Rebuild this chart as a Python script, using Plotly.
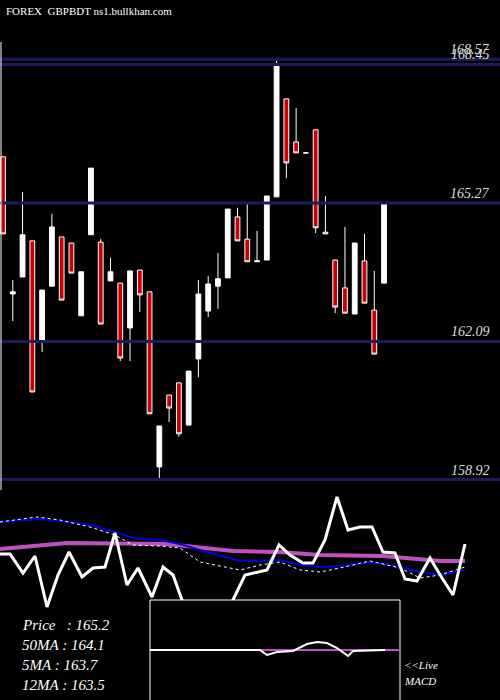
import plotly.graph_objs as go

# daily candles
opens = [166.33, 163.18, 163.57, 164.40, 162.09, 163.36, 164.49, 164.35, 162.68, 164.54,
         164.37, 163.48, 163.43, 162.40, 163.73, 163.23, 159.21, 160.86, 161.14, 160.17,
         161.69, 162.79, 163.36, 163.55, 164.95, 164.44, 163.92, 163.96, 165.41, 167.66,
         166.67, 166.42, 166.95, 164.60, 163.96, 163.32, 162.72, 163.94, 162.81, 163.43]
highs = [166.33, 163.50, 165.52, 164.40, 163.27, 165.02, 164.49, 164.35, 163.69, 166.07,
         164.44, 164.01, 163.43, 163.71, 163.73, 163.23, 160.15, 160.86, 161.14, 161.41,
         163.50, 163.59, 164.12, 165.13, 165.16, 165.25, 164.63, 165.43, 168.57, 167.66,
         167.45, 166.42, 166.95, 165.43, 163.96, 164.72, 164.35, 164.56, 163.71, 165.25]
lows = [164.56, 162.56, 163.57, 160.93, 161.85, 163.36, 163.04, 163.66, 162.68, 164.54,
        162.49, 163.48, 161.64, 161.64, 162.77, 160.43, 158.89, 160.24, 159.90, 160.17,
        161.27, 162.65, 162.84, 163.55, 164.40, 163.92, 163.92, 163.96, 165.41, 165.84,
        166.42, 166.42, 164.58, 164.56, 162.74, 162.74, 162.72, 162.97, 161.80, 163.43]
closes = [164.56, 163.23, 164.54, 160.93, 163.27, 164.72, 163.04, 163.66, 163.69, 166.07,
          162.49, 163.69, 161.71, 163.71, 163.16, 160.43, 160.15, 160.56, 159.97, 161.41,
          163.18, 163.41, 163.53, 165.13, 164.40, 163.92, 163.94, 165.43, 168.44, 166.19,
          166.42, 166.42, 164.70, 164.56, 162.88, 162.74, 164.35, 162.97, 161.80, 165.25]
levels = [168.57, 168.45, 165.27, 162.09, 158.92]
level_labels = ["168.57", "168.45", "165.27", "162.09", "158.92"]

# lower indicator panel (panel units, x across the panel)
blue_x = [0, 40, 60, 90, 115, 133, 160, 180, 200, 240, 280, 300, 320, 340, 370, 400, 420, 440, 465]
blue_y = [522, 519, 521, 525, 532, 538, 540, 544, 550, 561, 560, 565, 567, 566, 562, 567, 572, 575, 570]
dot_x = [0, 37, 60, 90, 115, 133, 160, 180, 200, 240, 260, 280, 300, 320, 340, 370, 400, 420, 440, 465]
dot_y = [522, 517, 520, 527, 535, 545, 546, 548, 562, 570, 565, 562, 570, 572, 568, 561, 568, 578, 575, 567]
mag_x = [0, 67, 167, 233, 280, 320, 383, 440, 465]
mag_y = [549, 543, 544, 551, 552, 555, 556, 561, 561]
wht_x = [0, 10, 23, 35, 47, 58, 69, 82, 93, 105, 115, 127, 138, 152, 163, 173, 182, 200, 217, 233,
         245, 267, 279, 290, 303, 313, 325, 337, 348, 360, 372, 383, 395, 405, 417, 430, 442, 453, 465]
wht_y = [554, 554, 573, 556, 607, 575, 552, 577, 568, 567, 533, 585, 568, 597, 567, 575, 600, 620, 620, 600,
         575, 570, 545, 555, 563, 563, 540, 497, 530, 527, 527, 552, 553, 579, 581, 558, 578, 595, 544]
macd_x = [150, 260, 267, 277, 293, 307, 317, 327, 337, 348, 353, 385]
macd_y = [650, 650, 655, 652, 651, 644, 642, 643, 648, 656, 651, 650]
sig_x = [150, 400]
sig_y = [650, 650]

fig = go.Figure()

for lv in levels:
    fig.add_trace(go.Scatter(x=[-1, 60], y=[lv, lv], mode='lines',
                             line=dict(color='#1c1c5c', width=3), hoverinfo='skip', showlegend=False))

fig.add_trace(go.Candlestick(
    x=list(range(len(opens))), open=opens, high=highs, low=lows, close=closes,
    increasing=dict(fillcolor='white', line=dict(color='white', width=1)),
    decreasing=dict(fillcolor='#cc0000', line=dict(color='white', width=1)),
    whiskerwidth=0, showlegend=False))

def lower(x, y, color, width, dash=None):
    fig.add_trace(go.Scatter(x=x, y=y, mode='lines', xaxis='x2', yaxis='y2',
                             line=dict(color=color, width=width, dash=dash), showlegend=False))

lower(mag_x, mag_y, '#c050c0', 4)
lower(blue_x, blue_y, '#0000dd', 2)
lower(dot_x, dot_y, 'white', 1, 'dot')
lower(wht_x, wht_y, 'white', 3)

# MACD box
fig.add_trace(go.Scatter(x=[150, 400, 400, 150, 150], y=[600, 600, 705, 705, 600], xaxis='x2', yaxis='y2',
                         mode='lines', fill='toself', fillcolor='black',
                         line=dict(color='white', width=1), showlegend=False))
lower(sig_x, sig_y, '#c050c0', 2)
lower(macd_x, macd_y, 'white', 2)

serif = "Liberation Serif, DejaVu Serif, serif"
ann = []
for lv, lab in zip(levels, level_labels):
    ann.append(dict(x=1, xref='paper', xanchor='right', y=lv, yref='y', yanchor='bottom', xshift=-8,
                    text='<i>%s</i>' % lab, showarrow=False, font=dict(family=serif, size=14, color='#dddddd')))
ann.append(dict(x=0.008, y=1, xref='paper', yref='paper', xanchor='left', yanchor='top', yshift=-3,
                text='FOREX  GBPBDT ns1.bullkhan.com', showarrow=False,
                font=dict(family=serif, size=11, color='white')))
for i, t in enumerate(['Price   : 165.2', '50MA : 164.1', '5MA : 163.7', '12MA : 163.5']):
    ann.append(dict(x=20, y=625 + 20 * i, xref='x2', yref='y2', xanchor='left', yanchor='middle',
                    text='<i>%s</i>' % t, showarrow=False, font=dict(family=serif, size=15, color='white')))
ann.append(dict(x=402, y=665, xref='x2', yref='y2', xanchor='left', yanchor='middle', text='<i>&lt;&lt;Live</i>',
                showarrow=False, font=dict(family=serif, size=11, color='white')))
ann.append(dict(x=402, y=681, xref='x2', yref='y2', xanchor='left', yanchor='middle', text='<i>MACD</i>',
                showarrow=False, font=dict(family=serif, size=11, color='white')))

fig.update_layout(
    width=500, height=700, margin=dict(l=0, r=0, t=0, b=0),
    paper_bgcolor='black', plot_bgcolor='black',
    xaxis=dict(range=[-0.31, 50.87], visible=False, rangeslider=dict(visible=False)),
    yaxis=dict(domain=[0.3, 1], range=[158.68, 169.93], visible=False),
    xaxis2=dict(range=[0, 500], visible=False, anchor='y2'),
    yaxis2=dict(domain=[0, 0.3], range=[700, 490], visible=False, anchor='x2'),
    annotations=ann,
    shapes=[dict(type='line', xref='paper', yref='paper', x0=0.002, x1=0.002, y0=0.3, y1=0.94,
                 line=dict(color='white', width=1))],
)

fig.write_html("out.html", config={'displayModeBar': False},
               post_script="document.body.style.margin='0';document.body.style.background='black';")
